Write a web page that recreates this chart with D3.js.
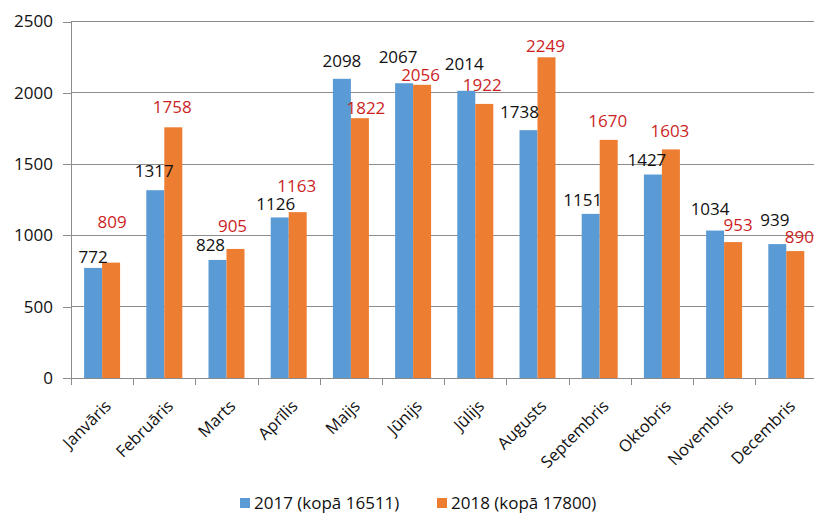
<!DOCTYPE html>
<html>
<head>
<meta charset="utf-8">
<script src="https://cdn.jsdelivr.net/npm/d3@7/dist/d3.min.js"></script>
<style>
  html, body { margin: 0; padding: 0; background: #fff; }
  svg { display: block; font-family: "Open Sans", "DejaVu Sans", sans-serif; }
</style>
</head>
<body>
<svg id="chart" width="814" height="513"></svg>
<script>
// ---- data ----
const months = ["Janvāris", "Februāris", "Marts", "Aprīlis", "Maijs", "Jūnijs", "Jūlijs", "Augusts", "Septembris", "Oktobris", "Novembris", "Decembris"];
const series = ["2017", "2018"];
const values2017 = [772, 1317, 828, 1126, 2098, 2067, 2014, 1738, 1151, 1427, 1034, 939];
const values2018 = [809, 1758, 905, 1163, 1822, 2056, 1922, 2249, 1670, 1603, 953, 890];
const legendLabels = ["2017 (kopā 16511)", "2018 (kopā 17800)"];
const yTickValues = [0, 500, 1000, 1500, 2000, 2500];

// ---- label placement (layout, pixels: [dx, gap above bar top]) ----
const labelPos2017 = [[0,5],[-1,13],[-7,9],[-4,7],[0,12],[-6,20],[-2,21],[-9,12],[-8,8],[-6,8.5],[-5,15.5],[-2.5,18]];
const labelPos2018 = [[1,35],[-1,14],[-3,17],[-1,20],[6,4],[-1.5,4],[-2,13],[-1,5],[-1,12.5],[-1,12],[5,11],[4,7.6]];

const colors = ["#5B9BD5", "#ED7D31"];
const labelColors = ["#111111", "#CC1F1F"];

const svg = d3.select("#chart");
const plotLeft = 71, plotRight = 817.4, plotTop = 21.5, plotBottom = 378;

const x0 = d3.scaleBand().domain(months).range([plotLeft, plotRight]).paddingInner(0).paddingOuter(0);
const x1 = d3.scaleBand().domain(series).range([0, x0.bandwidth()]).paddingInner(0).paddingOuter(0.728);
const y = d3.scaleLinear().domain([0, 2500]).range([plotBottom, plotTop]);

// gridlines
svg.append("g")
  .selectAll("line").data(yTickValues.filter(d => d > 0)).join("line")
  .attr("x1", plotLeft).attr("x2", 814)
  .attr("y1", d => y(d)).attr("y2", d => y(d))
  .attr("stroke", "#8c8c8c").attr("stroke-width", 1).attr("shape-rendering", "crispEdges");

// y axis
const yAxis = svg.append("g").attr("transform", `translate(${plotLeft},0)`)
  .call(d3.axisLeft(y).tickValues(yTickValues).tickSize(8).tickPadding(10).tickFormat(d3.format("d")));
yAxis.select(".domain").attr("stroke", "#8c8c8c").attr("shape-rendering", "crispEdges");
yAxis.selectAll(".tick line").attr("stroke", "#8c8c8c").attr("shape-rendering", "crispEdges");
yAxis.selectAll("text").attr("font-size", "17px").attr("fill", "#111111").attr("font-family", "Open Sans");

// bars
const allValues = [values2017, values2018];
const labelPos = [labelPos2017, labelPos2018];
series.forEach((s, si) => {
  const g = svg.append("g");
  g.selectAll("rect").data(months).join("rect")
    .attr("x", m => x0(m) + x1(s))
    .attr("width", x1.bandwidth())
    .attr("y", (m, i) => y(allValues[si][i]))
    .attr("height", (m, i) => y(0) - y(allValues[si][i]))
    .attr("fill", colors[si]);
});

// x axis
const xAxis = svg.append("g").attr("transform", `translate(0,${plotBottom})`)
  .call(d3.axisBottom(x0).tickSize(0).tickFormat(""));
xAxis.select(".domain").attr("stroke", "#8c8c8c").attr("shape-rendering", "crispEdges");
// boundary ticks
svg.append("g").selectAll("line").data(months).join("line")
  .attr("x1", m => Math.round(x0(m)) + 0.5).attr("x2", m => Math.round(x0(m)) + 0.5)
  .attr("y1", plotBottom).attr("y2", plotBottom + 7)
  .attr("stroke", "#8c8c8c");

// category labels
svg.append("g").selectAll("text").data(months).join("text")
  .attr("transform", m => `translate(${x0(m) + x0.bandwidth() / 2 + 6},${plotBottom + 25}) rotate(-45)`)
  .attr("text-anchor", "end")
  .attr("dy", "0.35em")
  .attr("font-size", "16.5px")
  .attr("fill", "#111111")
  .text(m => m);

// data labels
series.forEach((s, si) => {
  svg.append("g").selectAll("text").data(months).join("text")
    .attr("x", (m, i) => x0(m) + x1(s) + x1.bandwidth() / 2 + labelPos[si][i][0])
    .attr("y", (m, i) => y(allValues[si][i]) - labelPos[si][i][1])
    .attr("text-anchor", "middle")
    .attr("font-size", "17px")
    .attr("fill", labelColors[si])
    .text((m, i) => allValues[si][i]);
});

// legend
const legendX = [240, 437];
const lg = svg.append("g");
legendLabels.forEach((t, i) => {
  lg.append("rect").attr("x", legendX[i]).attr("y", 498).attr("width", 10).attr("height", 10).attr("fill", colors[i]);
  lg.append("text").attr("x", legendX[i] + 14).attr("y", 509).attr("font-size", "17px").attr("fill", "#111111").text(t);
});
</script>
</body>
</html>
